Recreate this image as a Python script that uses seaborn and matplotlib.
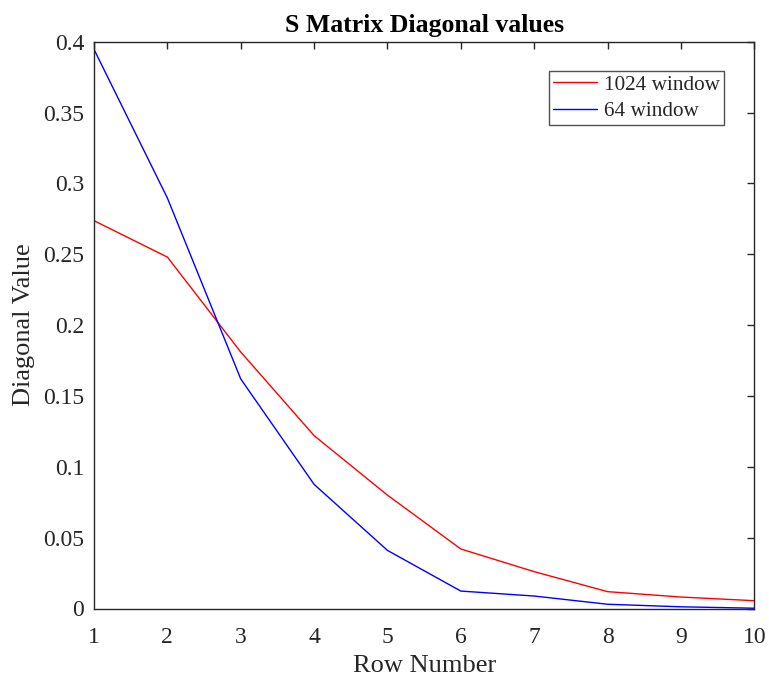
import matplotlib
matplotlib.use("Agg")
import matplotlib.pyplot as plt
import seaborn as sns
import pandas as pd

rows = [1, 2, 3, 4, 5, 6, 7, 8, 9, 10]
win1024 = [0.2737, 0.2480, 0.1810, 0.1220, 0.0800, 0.0420, 0.0260, 0.0119, 0.0081, 0.0055]
win64 = [0.3946, 0.2897, 0.1620, 0.0876, 0.0410, 0.0123, 0.0088, 0.0030, 0.0012, 0.0002]
series_names = ["1024 window", "64 window"]
xticks = [1, 2, 3, 4, 5, 6, 7, 8, 9, 10]
yticks = [0, 0.05, 0.1, 0.15, 0.2, 0.25, 0.3, 0.35, 0.4]
ytick_labels = ["0", "0.05", "0.1", "0.15", "0.2", "0.25", "0.3", "0.35", "0.4"]

df = pd.DataFrame({
    "Row": rows * 2,
    "Value": win1024 + win64,
    "Series": [series_names[0]] * len(rows) + [series_names[1]] * len(rows),
})

sns.set_style("white")
plt.rcParams["font.family"] = ["Liberation Serif", "DejaVu Serif"]

fig = plt.figure(figsize=(7.69, 6.77), dpi=100)
ax = fig.add_axes([94 / 769, 1 - 608.5 / 677, (754.3 - 94) / 769, (608.5 - 41.7) / 677])

sns.lineplot(data=df, x="Row", y="Value", hue="Series",
             palette={series_names[0]: "#ff0000", series_names[1]: "#0000ff"},
             linewidth=1.0, ax=ax, legend=True)

ax.set_xlim(1, 10)
ax.set_ylim(0, 0.4)
ax.set_xticks(xticks)
ax.set_xticklabels([str(t) for t in xticks])
ax.set_yticks(yticks)
ax.set_yticklabels(ytick_labels)

dark = "#262626"
for s in ax.spines.values():
    s.set_visible(True)
    s.set_color(dark)
    s.set_linewidth(1.0)
ax.tick_params(axis="both", which="both", direction="in", length=5, width=1.0,
               colors=dark, labelsize=17, top=True, right=True)
ax.tick_params(axis="x", pad=13)
ax.tick_params(axis="y", pad=7)

ax.set_xlabel("Row Number", fontsize=19, color=dark, labelpad=5)
ax.set_ylabel("Diagonal Value", fontsize=19, color=dark, labelpad=6)
ax.set_title("S Matrix Diagonal values", fontsize=18.5, fontweight="bold", color="black", pad=7)

handles, labels = ax.get_legend_handles_labels()
leg = ax.legend(handles, labels, loc="upper right",
                bbox_to_anchor=(724 / 769, 1 - 70.7 / 677), bbox_transform=fig.transFigure,
                borderaxespad=0, fontsize=15.3, frameon=True, fancybox=False,
                edgecolor=dark, handlelength=2.1, handletextpad=0.3,
                borderpad=0.2, labelspacing=0.3)
leg.get_frame().set_linewidth(1.0)

fig.savefig("out.png", dpi=100, facecolor="white")
